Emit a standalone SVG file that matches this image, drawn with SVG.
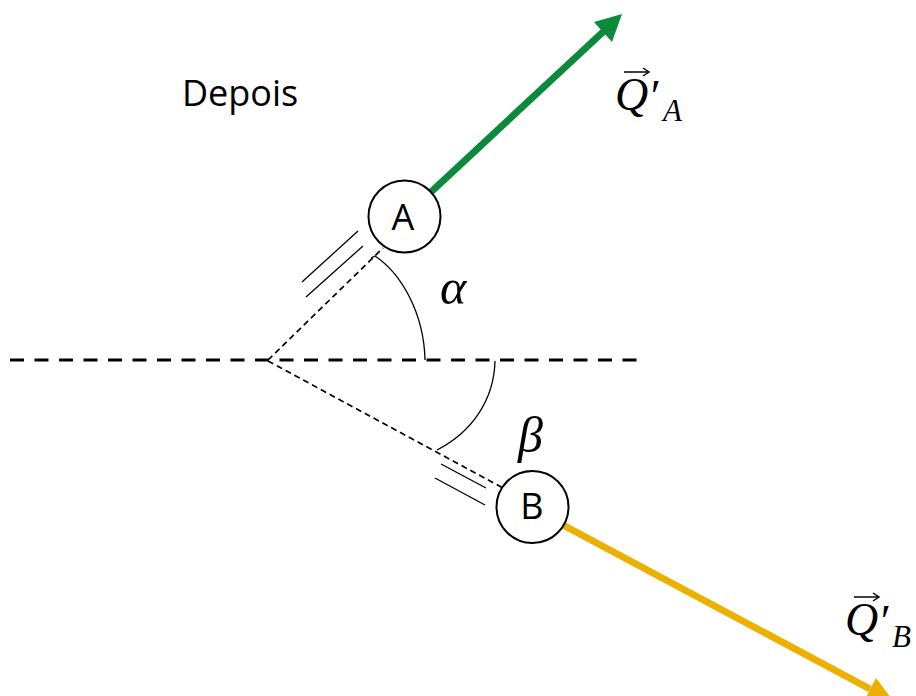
<svg xmlns="http://www.w3.org/2000/svg" width="916" height="696" viewBox="0 0 916 696">
<style>
.lbl{font-family:"Open Sans","Liberation Sans",sans-serif;font-size:36px;fill:#000}
.math{font-family:"Liberation Serif","DejaVu Serif",serif;font-style:italic;fill:#000}
.node{fill:#fff;stroke:#000;stroke-width:2}
.thin{stroke:#000;stroke-width:1.3;fill:none}
.dash{stroke:#000;stroke-width:1.7;stroke-dasharray:6 4;fill:none}
</style>
<rect width="916" height="696" fill="#fff"/>
<text class="lbl" x="182" y="106">Depois</text>
<g id="connectors">
  <line x1="10" y1="360" x2="640" y2="360" stroke="#000" stroke-width="3" stroke-dasharray="14 10.5"/>
  <line class="dash" x1="268" y1="360" x2="383" y2="248"/>
  <line class="dash" x1="268" y1="361" x2="503" y2="488"/>
  <line class="thin" x1="302" y1="282" x2="358" y2="231"/>
  <line class="thin" x1="306" y1="297" x2="363" y2="246"/>
  <line class="thin" x1="441" y1="464" x2="486" y2="488"/>
  <line class="thin" x1="435" y1="478" x2="485" y2="505"/>
  <path class="thin" d="M371,258 L375,256 C402,274 424,314 425,360"/>
  <path class="thin" d="M495,361 C494,400 472,432 437,450"/>
  <line x1="431" y1="192" x2="604" y2="31" stroke="#0B8A3D" stroke-width="7"/>
  <polygon points="622,14 612,42 594,22" fill="#0B8A3D"/>
  <line x1="563" y1="525" x2="870" y2="689" stroke="#EBB000" stroke-width="7"/>
  <polygon points="894,702 864,701 876,678" fill="#EBB000"/>
</g>
<g id="nodeA">
  <circle class="node" cx="404.5" cy="216.5" r="36"/>
  <text class="lbl" x="403" y="230" text-anchor="middle" font-size="37">A</text>
</g>
<g id="nodeB">
  <circle class="node" cx="532.5" cy="507" r="36"/>
  <text class="lbl" x="532" y="519" text-anchor="middle" font-size="37">B</text>
</g>
<g id="alpha"><text class="math" x="440" y="304" font-size="50">α</text></g>
<g id="beta"><text class="math" x="518" y="452" font-size="50">β</text></g>
<g id="QA">
  <line x1="624" y1="72" x2="648" y2="72" stroke="#000" stroke-width="1.5"/>
  <path d="M643,68 L649,72 L643,76" fill="none" stroke="#000" stroke-width="1.5"/>
  <text class="math" x="615" y="110" font-size="46">Q</text>
  <text class="math" x="648" y="112" font-size="46">′</text>
  <text class="math" x="663" y="121" font-size="31">A</text>
</g>
<g id="QB">
  <line x1="854" y1="597" x2="878" y2="597" stroke="#000" stroke-width="1.5"/>
  <path d="M873,593 L879,597 L873,601" fill="none" stroke="#000" stroke-width="1.5"/>
  <text class="math" x="845" y="635" font-size="46">Q</text>
  <text class="math" x="878" y="637" font-size="46">′</text>
  <text class="math" x="892" y="647" font-size="31">B</text>
</g>
</svg>
